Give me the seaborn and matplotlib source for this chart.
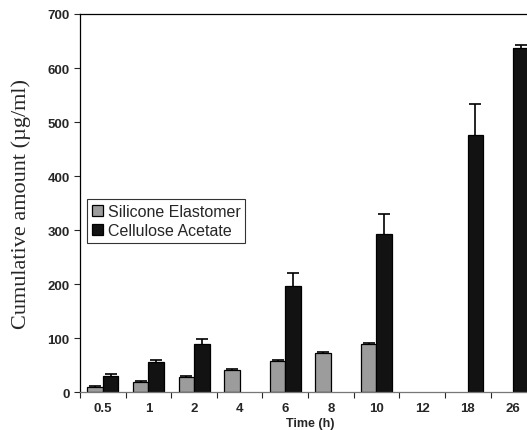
import numpy as np
import pandas as pd
import matplotlib
matplotlib.use("Agg")
import matplotlib.pyplot as plt
import seaborn as sns

# values (NaN = no bar)
times = ["0.5", "1", "2", "4", "6", "8", "10", "12", "18", "26"]
silicone = [10, 19, 29, 42, 58, 73, 90, np.nan, np.nan, np.nan]
silicone_err = [1, 1, 1, 1, 1, 1, 1, np.nan, np.nan, np.nan]
acetate = [31, 56, 90, np.nan, 197, np.nan, 293, np.nan, 476, 638]
acetate_err = [3, 4, 9, np.nan, 23, np.nan, 36, np.nan, 58, 5]
groups = ["Silicone Elastomer", "Cellulose Acetate"]

sns.set_style("ticks")
plt.rcParams["font.family"] = ["Liberation Sans", "DejaVu Sans"]

rows = []
for g, vals, errs in [(groups[0], silicone, silicone_err), (groups[1], acetate, acetate_err)]:
    for t, v, e in zip(times, vals, errs):
        if not np.isnan(v):
            rows.append({"Time": t, "Amount": v, "Err": e, "Material": g})
df = pd.DataFrame(rows)

fig = plt.figure(figsize=(5.27, 4.31), dpi=100)
ax = fig.add_axes([0.1518, 0.0875, 1.026 - 0.1518, 0.9652 - 0.0875])

sns.barplot(data=df, x="Time", y="Amount", hue="Material", order=times,
            hue_order=groups, palette=["#9c9c9c", "#121212"], width=0.68,
            errorbar=None, edgecolor="black", linewidth=0.9, saturation=1,
            zorder=2, ax=ax)

# upper-only error bars, drawn behind the bars; hide the lower caps
for cont, g in zip(ax.containers, groups):
    errs = df[df["Material"] == g]["Err"].values
    xs = [b.get_x() + b.get_width() / 2 for b in cont]
    hs = [b.get_height() for b in cont]
    eb = ax.errorbar(xs, hs, yerr=[np.zeros(len(errs)), errs], fmt="none",
                     ecolor="black", elinewidth=1.2, capsize=4, capthick=1.2,
                     zorder=1)
    eb[1][0].set_visible(False)

ax.set_xlim(-0.38, 9.6)
ax.set_ylim(0, 700)
ax.set_yticks(range(0, 701, 100))
ax.set_xticks(np.arange(-0.5, 10, 1), minor=True)
ax.tick_params(axis="x", which="major", length=0, pad=7)
ax.tick_params(axis="x", which="minor", length=4, width=0.8, direction="out")
ax.tick_params(axis="y", length=4, width=0.8, direction="out")
for lab in ax.get_xticklabels() + ax.get_yticklabels():
    lab.set_fontsize(9.5)
    lab.set_fontweight("bold")

for s in ["top", "left", "right"]:
    ax.spines[s].set_color("black")
    ax.spines[s].set_linewidth(0.9)
ax.spines["bottom"].set_color("#777777")
ax.spines["bottom"].set_linewidth(0.9)

ax.set_xlabel("Time (h)", fontsize=9, fontweight="bold", labelpad=2)
ax.set_ylabel("Cumulative amount (µg/ml)", fontsize=16,
              family=["Liberation Serif", "DejaVu Serif"], labelpad=12)

leg = ax.legend(loc="upper left", bbox_to_anchor=(0.015, 0.51), borderaxespad=0,
                fontsize=11.5, frameon=True, fancybox=False, edgecolor="black",
                handlelength=0.7, handleheight=0.7, handletextpad=0.3,
                labelspacing=0.25, borderpad=0.3, title=None)
leg.get_frame().set_linewidth(0.8)

fig.savefig("out.png", dpi=100)
